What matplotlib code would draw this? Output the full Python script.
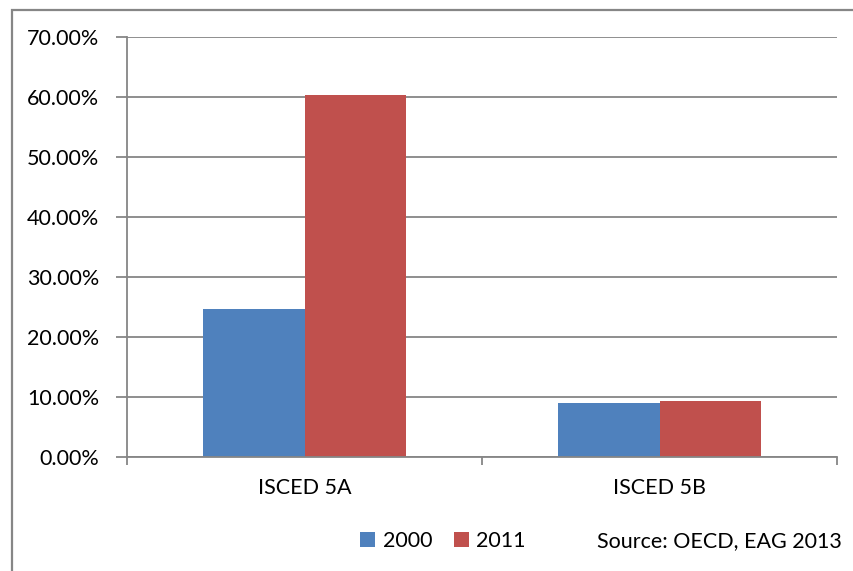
import matplotlib
matplotlib.use("Agg")
from matplotlib import pyplot as plt
from matplotlib.patches import Rectangle
import numpy as np

plt.rcParams['font.family'] = ['Lato', 'DejaVu Sans']

categories = ['ISCED 5A', 'ISCED 5B']
series_names = ['2000', '2011']
values_2000 = [24.75, 9.0]
values_2011 = [60.35, 9.4]
colors = ['#4F81BD', '#C0504D']
yticks = [0, 10, 20, 30, 40, 50, 60, 70]

W, H = 854, 571
fs = 15.5
fig = plt.figure(figsize=(W / 100, H / 100), dpi=100)
ax = fig.add_axes([127 / W, 1 - 457 / H, 710 / W, 420 / H])

x = np.arange(len(categories))
bw = 0.285
ax.bar(x - bw / 2, values_2000, bw, color=colors[0], label=series_names[0])
ax.bar(x + bw / 2, values_2011, bw, color=colors[1], label=series_names[1])

ax.set_xlim(-0.5, len(categories) - 0.5)
ax.set_ylim(0, 70)
ax.set_yticks(yticks)
ax.set_yticklabels(['%.2f%%' % v for v in yticks])
ax.set_xticks(x)
ax.set_xticklabels(categories)
ax.set_xticks(np.arange(-0.5, len(categories)), minor=True)

grid_c = '#868686'
ax.yaxis.grid(True, color=grid_c, linewidth=1.3)
ax.set_axisbelow(True)
for s in ['top', 'right']:
    ax.spines[s].set_visible(False)
for s in ['left', 'bottom']:
    ax.spines[s].set_color(grid_c)
    ax.spines[s].set_linewidth(1.3)

ax.tick_params(axis='y', length=8, width=1.3, color=grid_c, pad=12,
               labelsize=fs, labelcolor='black')
ax.tick_params(axis='x', which='major', length=0, pad=15,
               labelsize=fs, labelcolor='black')
ax.tick_params(axis='x', which='minor', length=6, width=1.3, color=grid_c)

leg = fig.legend(loc='center', bbox_to_anchor=(443 / W, 1 - 541 / H),
                 ncol=2, frameon=False, fontsize=fs, handlelength=0.7,
                 handleheight=0.7, handletextpad=0.35, columnspacing=1.0)

fig.text(842 / W, 1 - 541 / H, 'Source: OECD, EAG 2013', ha='right',
         va='center', fontsize=fs)

# chart area border (runs off the right/bottom edge)
fig.patches.append(Rectangle((12 / W, -0.05), 1.0, 1 - 10 / H + 0.05,
                             transform=fig.transFigure, fill=False,
                             edgecolor=grid_c, linewidth=1.6))

fig.savefig('out.png', dpi=100)
